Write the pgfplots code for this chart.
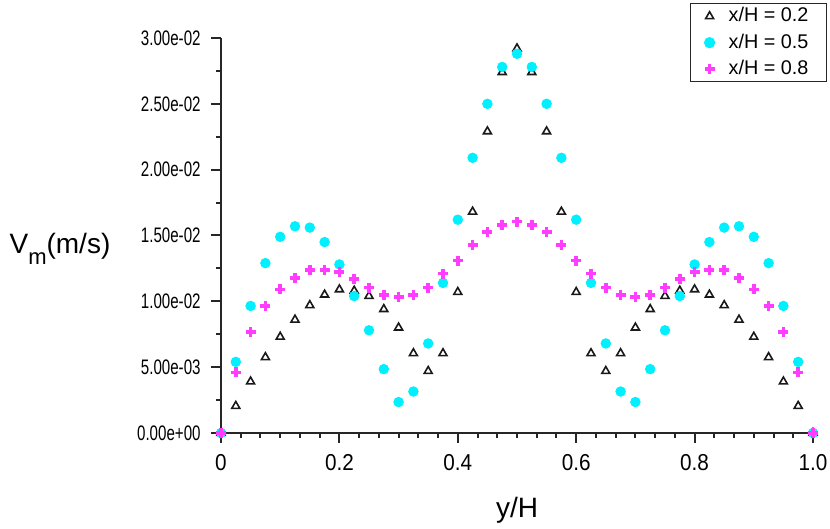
\documentclass[border=0pt]{standalone}
\usepackage{fontspec}
\setmainfont{Liberation Sans}
\newfontfamily\ytickfont{Liberation Sans}[FakeStretch=0.72]
\newfontfamily\xtickfont{Liberation Sans}[FakeStretch=0.9]
\usepackage{pgfplots}
\usepackage{pgfplotstable}
\pgfplotsset{compat=1.18}

\definecolor{vcyan}{RGB}{0,240,255}
\definecolor{vmag}{RGB}{255,60,255}

% y/H, then V_m for x/H = 0.2, 0.5, 0.8
\pgfplotstableread{
x      a        b        c
0.000  0.0      0.0      0.0
0.025  0.00205  0.00540  0.00460
0.050  0.00390  0.00965  0.00765
0.075  0.00575  0.01290  0.00965
0.100  0.00730  0.01490  0.01090
0.125  0.00860  0.01570  0.01175
0.150  0.00970  0.01560  0.01240
0.175  0.01050  0.01450  0.01240
0.200  0.01090  0.01280  0.01225
0.225  0.01080  0.01040  0.01170
0.250  0.01040  0.00780  0.01105
0.275  0.00940  0.00485  0.01050
0.300  0.00800  0.00235  0.01035
0.325  0.00605  0.00315  0.01050
0.350  0.00470  0.00680  0.01105
0.375  0.00605  0.01140  0.01210
0.400  0.01070  0.01620  0.01310
0.425  0.01680  0.02090  0.01430
0.450  0.02290  0.02500  0.01525
0.475  0.02740  0.02780  0.01580
0.500  0.02920  0.02880  0.01605
0.525  0.02740  0.02780  0.01580
0.550  0.02290  0.02500  0.01525
0.575  0.01680  0.02090  0.01430
0.600  0.01070  0.01620  0.01310
0.625  0.00605  0.01140  0.01210
0.650  0.00470  0.00680  0.01105
0.675  0.00605  0.00315  0.01050
0.700  0.00800  0.00235  0.01035
0.725  0.00940  0.00485  0.01050
0.750  0.01040  0.00780  0.01105
0.775  0.01080  0.01040  0.01170
0.800  0.01090  0.01280  0.01225
0.825  0.01050  0.01450  0.01240
0.850  0.00970  0.01560  0.01240
0.875  0.00860  0.01570  0.01175
0.900  0.00730  0.01490  0.01090
0.925  0.00575  0.01290  0.00965
0.950  0.00390  0.00965  0.00765
0.975  0.00205  0.00540  0.00460
1.000  0.0      0.0      0.0
}\vmdata

\begin{document}
\begin{tikzpicture}
\useasboundingbox (-110.5pt,-48pt) rectangle (304.5pt,216.5pt);
\begin{axis}[
    scale only axis,
    width=296pt, height=197.5pt,
    xmin=0, xmax=1, ymin=0, ymax=0.03,
    axis lines=left,
    axis line style={-, line width=1pt, black!85},
    clip=false,
    tick align=outside,
    major tick length=5pt,
    minor tick length=2.5pt,
    every tick/.style={line width=1pt, black!85},
    scaled y ticks=false,
    xtick={0,0.2,0.4,0.6,0.8,1},
    xticklabels={0,0.2,0.4,0.6,0.8,1.0},
    minor x tick num=5,
    ytick={0,0.005,0.01,0.015,0.02,0.025,0.03},
    yticklabels={0.00e+00,5.00e-03,1.00e-02,1.50e-02,2.00e-02,2.50e-02,3.00e-02},
    minor y tick num=1,
    yticklabel style={font=\ytickfont\fontsize{10.5}{11}\selectfont, inner sep=2pt, xshift=-3pt},
    xticklabel style={font=\xtickfont\fontsize{11.5}{12}\selectfont, yshift=-2pt},
    xlabel={y/H},
    xlabel style={font=\fontsize{14}{16}\selectfont, at={(rel axis cs:0.5,-0.195)}, anchor=center},
    ylabel={V\raisebox{-0.4em}{\fontsize{11}{12}\selectfont m}(m/s)},
    ylabel style={font=\fontsize{14}{16}\selectfont, rotate=-90, at={(rel axis cs:-0.272,0.467)}, anchor=center},
    legend style={at={(rel axis cs:1.024,1.089)}, anchor=north east,
        draw=black!85, line width=0.8pt, font=\fontsize{9.9}{11}\selectfont,
        inner xsep=7pt, inner ysep=0pt, row sep=0.5pt, column sep=5pt},
    legend cell align=left,
]
\addplot[only marks, mark=triangle, mark size=2.3pt,
    mark options={draw=black!90, line width=0.8pt}] table[x=x, y=a] {\vmdata};
\addlegendentry{x/H = 0.2}
\addplot[only marks, mark=*, mark size=2.4pt,
    mark options={draw=vcyan, fill=vcyan}] table[x=x, y=b] {\vmdata};
\addlegendentry{x/H = 0.5}
\addplot[only marks, mark=+, mark size=2.5pt,
    mark options={draw=vmag, line width=1.8pt}] table[x=x, y=c] {\vmdata};
\addlegendentry{x/H = 0.8}
\end{axis}
\end{tikzpicture}
\end{document}
